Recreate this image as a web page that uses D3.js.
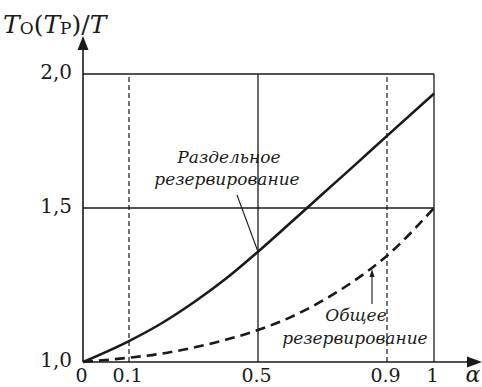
<!DOCTYPE html>
<html>
<head>
<meta charset="utf-8">
<script src="https://cdn.jsdelivr.net/npm/d3@7"></script>
<style>
  html, body { margin: 0; padding: 0; background: #fff; }
  svg { display: block; }
  svg text { font-family: "DejaVu Serif", serif; fill: #1a1a1a; }
</style>
</head>
<body>
<svg id="chart" width="482" height="387"></svg>
<script>
// Redundancy ratio T_O(T_P)/T versus alpha
const alphaTicks = [0, 0.1, 0.5, 0.9, 1];
const alphaLabels = ["0", "0.1", "0.5", "0.9", "1"];
const ratioTicks = [1.0, 1.5, 2.0];
const ratioLabels = ["1,0", "1,5", "2,0"];
const alphaValues = [0, 0.1, 0.2, 0.3, 0.4, 0.5, 0.6, 0.7, 0.8, 0.9, 1.0];
// separate (element-wise) redundancy
const separateValues = [1.00, 1.068, 1.125, 1.193, 1.27, 1.358, 1.451, 1.552, 1.66, 1.769, 1.927];
// general (system-wide) redundancy
const generalValues = [1.00, 1.014, 1.027, 1.047, 1.072, 1.104, 1.145, 1.199, 1.265, 1.345, 1.5];

const ink = "#1a1a1a";
const svg = d3.select("#chart");

const x = d3.scaleLinear().domain(alphaTicks).range([83, 129, 258, 387, 434]);
const y = d3.scaleLinear().domain(ratioTicks).range([362, 208, 74]);

// grid: solid at 0.5 / 1 and 1.5 / 2.0, dashed at 0.1 / 0.9
const solidX = [0.5, 1];
const dashedX = [0.1, 0.9];
const solidY = [1.5, 2.0];

svg.selectAll("line.gx").data(solidX).join("line")
  .attr("x1", d => x(d)).attr("x2", d => x(d))
  .attr("y1", y(1)).attr("y2", y(2))
  .attr("stroke", ink).attr("stroke-width", 1.3);

svg.selectAll("line.gd").data(dashedX).join("line")
  .attr("x1", d => x(d)).attr("x2", d => x(d))
  .attr("y1", y(1)).attr("y2", y(2) + 3)
  .attr("stroke", ink).attr("stroke-width", 1.2)
  .attr("stroke-dasharray", "5,3");

svg.selectAll("line.gy").data(solidY).join("line")
  .attr("x1", x(0)).attr("x2", x(1))
  .attr("y1", d => y(d)).attr("y2", d => y(d))
  .attr("stroke", ink).attr("stroke-width", 1.3);

// axes with arrowheads
svg.append("line").attr("x1", x(0)).attr("x2", 470).attr("y1", y(1)).attr("y2", y(1))
  .attr("stroke", ink).attr("stroke-width", 1.6);
svg.append("line").attr("x1", x(0)).attr("x2", x(0)).attr("y1", y(1)).attr("y2", 48)
  .attr("stroke", ink).attr("stroke-width", 1.6);
svg.append("path").attr("d", `M482,${y(1)} L467,${y(1) - 5.5} L467,${y(1) + 5.5} Z`).attr("fill", ink);
svg.append("path").attr("d", `M${x(0)},36 L${x(0) - 5.5},50 L${x(0) + 5.5},50 Z`).attr("fill", ink);

// tick labels
const xAxis = d3.axisBottom(x).tickValues(alphaTicks)
  .tickFormat((d, i) => alphaLabels[i]).tickSize(0).tickPadding(0);
const gx = svg.append("g").attr("transform", `translate(0,${y(1)})`).call(xAxis);
gx.select(".domain").remove();
gx.selectAll("text").attr("dy", null).attr("y", 20).attr("dx", -2)
  .attr("font-size", 19).attr("fill", ink);

const yAxis = d3.axisLeft(y).tickValues(ratioTicks)
  .tickFormat((d, i) => ratioLabels[i]).tickSize(0).tickPadding(11);
const gy = svg.append("g").attr("transform", `translate(${x(0)},0)`).call(yAxis);
gy.select(".domain").remove();
gy.selectAll("text").attr("dy", "0.22em")
  .attr("font-size", 20).attr("fill", ink);

// axis names
svg.append("text").attr("x", 473).attr("y", 382).attr("text-anchor", "middle")
  .attr("font-size", 22).attr("font-style", "italic").text("α");

const title = svg.append("text").attr("x", 3).attr("y", 33).attr("font-size", 25);
title.append("tspan").attr("font-style", "italic").text("T");
title.append("tspan").attr("font-size", 17).attr("dy", 1).text("O");
title.append("tspan").attr("dy", -1).text("(");
title.append("tspan").attr("font-style", "italic").text("T");
title.append("tspan").attr("font-size", 17).attr("dy", 1).text("P");
title.append("tspan").attr("dy", -1).text(")/");
title.append("tspan").attr("font-style", "italic").text("T");

// curves
const line = (vals) => d3.line()
  .x((d, i) => x(alphaValues[i]))
  .y(d => y(d))
  .curve(d3.curveMonotoneX)(vals);

svg.append("path").attr("d", line(separateValues))
  .attr("fill", "none").attr("stroke", ink).attr("stroke-width", 2.6);
svg.append("path").attr("d", line(generalValues))
  .attr("fill", "none").attr("stroke", ink).attr("stroke-width", 2.6)
  .attr("stroke-dasharray", "10,6");

// annotations
const label1 = svg.append("text").attr("font-size", 17).attr("font-style", "italic")
  .attr("text-anchor", "middle");
label1.append("tspan").attr("x", 229).attr("y", 163).text("Раздельное");
label1.append("tspan").attr("x", 227).attr("y", 185).text("резервирование");
svg.append("line").attr("x1", 237).attr("y1", 195).attr("x2", x(0.5)).attr("y2", y(separateValues[5]))
  .attr("stroke", ink).attr("stroke-width", 1.1);

const label2 = svg.append("text").attr("font-size", 17).attr("font-style", "italic")
  .attr("text-anchor", "middle");
label2.append("tspan").attr("x", 356).attr("y", 321).text("Общее");
label2.append("tspan").attr("x", 355).attr("y", 344).text("резервирование");
svg.append("line").attr("x1", 372).attr("y1", 304).attr("x2", 372).attr("y2", 272)
  .attr("stroke", ink).attr("stroke-width", 1.1);
svg.append("path").attr("d", "M372,269 L369.5,277 L374.5,277 Z").attr("fill", ink);
</script>
</body>
</html>
